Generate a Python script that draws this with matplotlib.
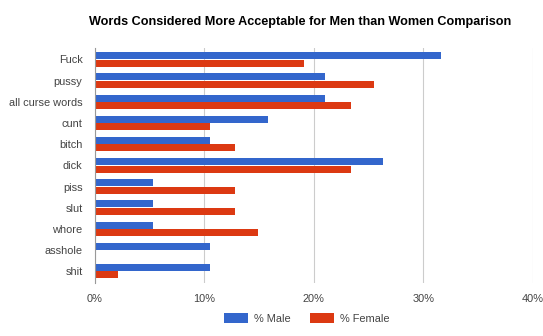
import matplotlib
matplotlib.use("Agg")
import matplotlib.pyplot as plt
import numpy as np
from matplotlib.patches import Patch

categories = ["Fuck", "pussy", "all curse words", "cunt", "bitch", "dick",
              "piss", "slut", "whore", "asshole", "shit"]
male = [31.6, 21.0, 21.0, 15.8, 10.5, 26.3, 5.3, 5.3, 5.3, 10.5, 10.5]
female = [19.1, 25.5, 23.4, 10.5, 12.8, 23.4, 12.8, 12.8, 14.9, 0.0, 2.1]
xticks = [0, 10, 20, 30, 40]
xticklabels = ["0%", "10%", "20%", "30%", "40%"]

plt.rcParams['font.family'] = ['Liberation Sans', 'DejaVu Sans']

fig = plt.figure(figsize=(5.43, 3.36), dpi=100)
ax = fig.add_axes([0.175, 0.158, 0.806, 0.700])

y = np.arange(len(categories))
h = 0.33
ax.barh(y - h/2 - 0.01, male, height=h, color="#3366cc", zorder=3)
ax.barh(y + h/2 + 0.01, female, height=h, color="#dc3912", zorder=3)

ax.set_ylim(len(categories) - 0.45, -0.55)
ax.set_xlim(0, 40)
ax.set_yticks(y)
ax.set_yticklabels(categories, fontsize=7.9, color="#444444")
ax.set_xticks(xticks)
ax.set_xticklabels(xticklabels, fontsize=7.9, color="#444444")
ax.tick_params(axis='y', length=0, pad=9)
ax.tick_params(axis='x', length=0, pad=8)
ax.grid(axis='x', color="#cccccc", linewidth=0.8, zorder=0)
for s in ["top", "right", "bottom"]:
    ax.spines[s].set_visible(False)
ax.spines["left"].set_color("#999999")
ax.spines["left"].set_linewidth(0.8)
ax.spines["left"].set_zorder(4)

fig.text(0.553, 0.934, "Words Considered More Acceptable for Men than Women Comparison",
         ha="center", va="center", fontsize=9.1, fontweight="bold", color="#000000")

handles = [Patch(facecolor="#3366cc", edgecolor="none", label="% Male"),
           Patch(facecolor="#dc3912", edgecolor="none", label="% Female")]
fig.legend(handles=handles, loc="center", bbox_to_anchor=(0.565, 0.053), ncol=2,
           frameon=False, fontsize=7.9, handlelength=2.2, handleheight=1.1,
           columnspacing=1.8, handletextpad=0.5, labelcolor="#444444")

fig.savefig("out.png", dpi=100, facecolor="white")
